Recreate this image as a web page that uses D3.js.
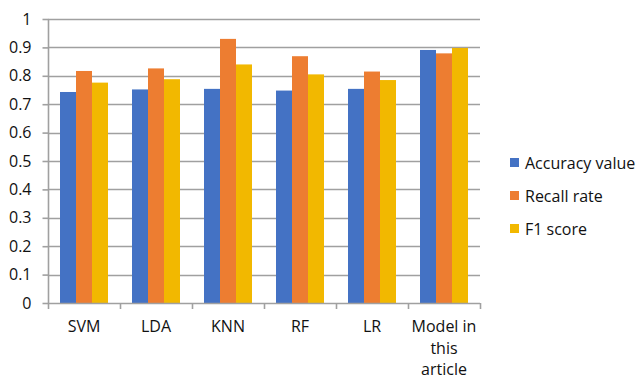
<!DOCTYPE html>
<html>
<head>
<meta charset="utf-8">
<script src="https://cdn.jsdelivr.net/npm/d3@7"></script>
<style>
  html, body { margin: 0; padding: 0; background: #fff; }
  svg { display: block; font-family: "Open Sans", sans-serif; }
</style>
</head>
<body>
<svg id="chart" width="637" height="379"></svg>
<script>
// Classifier comparison data
const categories = ["SVM", "LDA", "KNN", "RF", "LR", "Model in this article"];
const seriesNames = ["Accuracy value", "Recall rate", "F1 score"];
const accuracy = [0.743, 0.752, 0.754, 0.748, 0.754, 0.891];
const recall   = [0.817, 0.826, 0.930, 0.869, 0.815, 0.879];
const f1score  = [0.776, 0.788, 0.840, 0.805, 0.785, 0.898];
const yTicks = [0, 0.1, 0.2, 0.3, 0.4, 0.5, 0.6, 0.7, 0.8, 0.9, 1];

const colors = ["#4472C4", "#ED7D31", "#F2B800"];
const seriesValues = [accuracy, recall, f1score];

const svg = d3.select("#chart");
const plot = { left: 48, right: 480, top: 19, bottom: 303 };

const x0 = d3.scaleBand()
  .domain(categories)
  .range([plot.left, plot.right])
  .paddingInner(1 / 3)
  .paddingOuter(1 / 6);

const x1 = d3.scaleBand()
  .domain(seriesNames)
  .range([0, x0.bandwidth()]);

const y = d3.scaleLinear().domain([0, 1]).range([plot.bottom, plot.top]);

const textColor = "#111";
const gridColor = "#a0a0a0";

// Horizontal gridlines
svg.append("g")
  .selectAll("line")
  .data(yTicks.filter(t => t > 0))
  .join("line")
  .attr("x1", plot.left)
  .attr("x2", plot.right)
  .attr("y1", d => Math.round(y(d)) + 0.5)
  .attr("y2", d => Math.round(y(d)) + 0.5)
  .attr("stroke", gridColor)
  .attr("stroke-width", 1.6);

// Bars
const groups = svg.append("g")
  .selectAll("g")
  .data(categories)
  .join("g")
  .attr("transform", d => `translate(${x0(d)},0)`);

groups.selectAll("rect")
  .data((c, i) => seriesNames.map((s, k) => ({ s, k, v: seriesValues[k][i] })))
  .join("rect")
  .attr("x", d => x1(d.s))
  .attr("width", x1.bandwidth())
  .attr("y", d => y(d.v))
  .attr("height", d => y(0) - y(d.v))
  .attr("fill", d => colors[d.k]);

// Y axis
const yAxis = svg.append("g")
  .attr("transform", `translate(${plot.left + 0.5},0)`)
  .call(d3.axisLeft(y).tickValues(yTicks).tickFormat(d3.format("")).tickSize(6).tickPadding(11));
yAxis.select(".domain").attr("stroke", gridColor).attr("stroke-width", 1.6)
  .attr("d", `M0,${plot.top}V${plot.bottom}`);
yAxis.selectAll(".tick line").attr("stroke", gridColor).attr("stroke-width", 1.6);
yAxis.selectAll(".tick text")
  .attr("fill", textColor)
  .style("font-size", "16px")
  .style("font-family", "'Open Sans', sans-serif");

// X axis with tick marks at band boundaries
const xAxisG = svg.append("g");
xAxisG.append("line")
  .attr("x1", plot.left).attr("x2", plot.right)
  .attr("y1", plot.bottom + 0.5).attr("y2", plot.bottom + 0.5)
  .attr("stroke", gridColor).attr("stroke-width", 1.6);
const step = x0.step();
const boundaries = d3.range(categories.length + 1).map(i => plot.left + i * step);
xAxisG.selectAll("line.tk")
  .data(boundaries)
  .join("line")
  .attr("class", "tk")
  .attr("x1", d => Math.round(d) + 0.5).attr("x2", d => Math.round(d) + 0.5)
  .attr("y1", plot.bottom).attr("y2", plot.bottom + 6)
  .attr("stroke", gridColor).attr("stroke-width", 1.6);

// Category labels (wrapped)
const labelLines = {
  "Model in this article": ["Model in", "this", "article"]
};
const xLabels = xAxisG.selectAll("text.cat")
  .data(categories)
  .join("text")
  .attr("class", "cat")
  .attr("text-anchor", "middle")
  .attr("fill", textColor)
  .style("font-size", "16px")
  .attr("x", d => x0(d) + x0.bandwidth() / 2)
  .attr("y", 332);
xLabels.each(function(d) {
  const lines = labelLines[d] || [d];
  const t = d3.select(this);
  lines.forEach((ln, i) => {
    t.append("tspan")
      .attr("x", x0(d) + x0.bandwidth() / 2)
      .attr("dy", i === 0 ? 0 : 21.7)
      .text(ln);
  });
});

// Legend
const legend = svg.append("g")
  .selectAll("g")
  .data(seriesNames)
  .join("g")
  .attr("transform", (d, i) => `translate(510,${158 + i * 33})`);
legend.append("rect")
  .attr("width", 9).attr("height", 9)
  .attr("fill", (d, i) => colors[i]);
legend.append("text")
  .attr("x", 15).attr("y", 10.5)
  .attr("fill", textColor)
  .style("font-size", "16px")
  .text(d => d);
</script>
</body>
</html>
